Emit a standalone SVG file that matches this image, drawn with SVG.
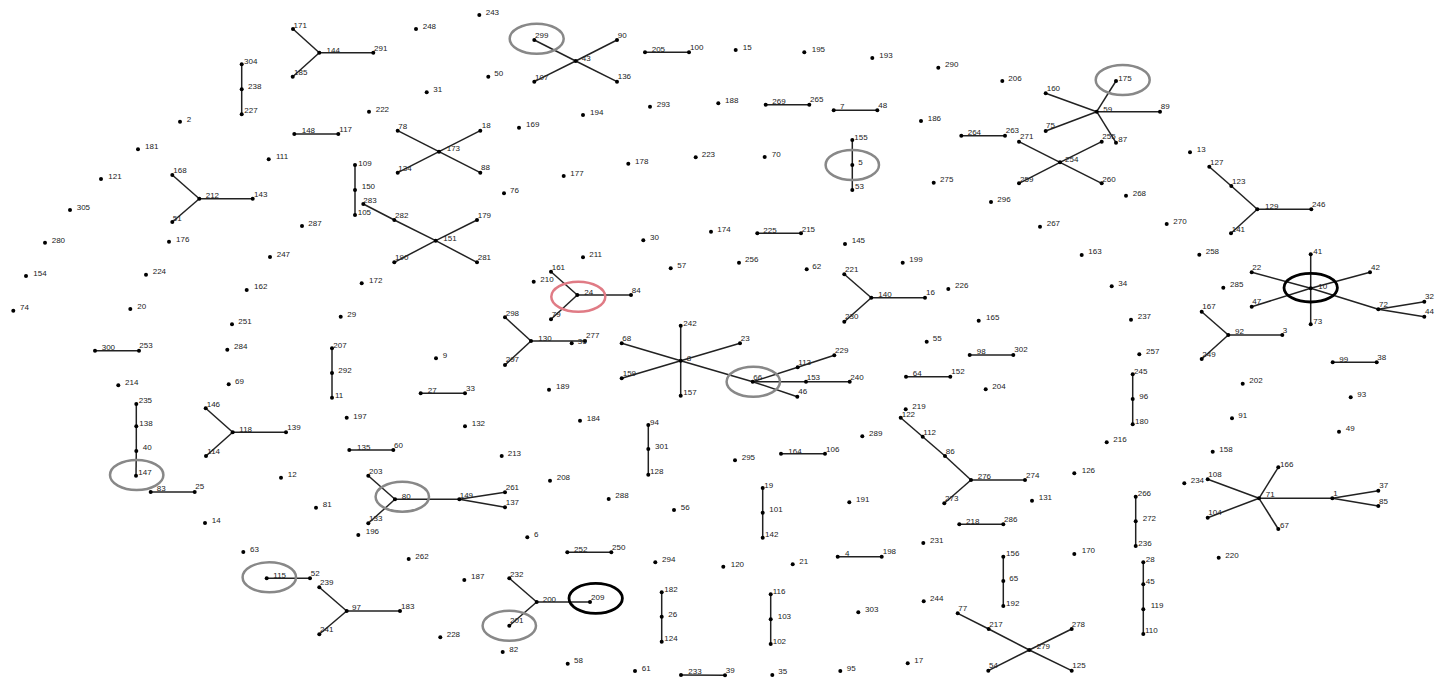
<svg xmlns="http://www.w3.org/2000/svg" width="1435" height="679" viewBox="0 0 1435 679">
<style>
.n circle{fill:#000}
text{font-family:"Liberation Sans",Arial,sans-serif;font-size:8px;fill:#222}
#edges line{stroke:#222;stroke-width:1.5}
.hg{fill:none;stroke:#888;stroke-width:2.5}
.hr{fill:none;stroke:#e07b85;stroke-width:2.5}
.hb{fill:none;stroke:#000;stroke-width:2.8}
</style>
<rect width="1435" height="679" fill="#fff"/>
<g id="edges">
<line x1="293" y1="29" x2="319.3" y2="52.7"/><line x1="292.7" y1="76.7" x2="319.3" y2="52.7"/><line x1="319.3" y1="52.7" x2="373.3" y2="52.7"/>
<line x1="241.7" y1="64.3" x2="241.7" y2="89.3"/><line x1="241.7" y1="89.3" x2="241.7" y2="114.3"/>
<line x1="294.3" y1="134" x2="338.3" y2="134"/>
<line x1="172.3" y1="175" x2="199.3" y2="198.7"/><line x1="172.3" y1="222" x2="199.3" y2="198.7"/><line x1="199.3" y1="198.7" x2="252.7" y2="198.7"/>
<line x1="355" y1="165" x2="355" y2="190"/><line x1="355" y1="190" x2="355" y2="215"/>
<line x1="363.3" y1="204" x2="394.3" y2="220"/><line x1="394.3" y1="220" x2="435.7" y2="240.7"/><line x1="435.7" y1="240.7" x2="477" y2="262.3"/><line x1="477" y1="220" x2="435.7" y2="240.7"/><line x1="435.7" y1="240.7" x2="394.3" y2="262.3"/>
<line x1="534.3" y1="40" x2="575.7" y2="61"/><line x1="617" y1="40" x2="575.7" y2="61"/><line x1="534.3" y1="81.7" x2="575.7" y2="61"/><line x1="617" y1="81.7" x2="575.7" y2="61"/>
<line x1="645" y1="52.3" x2="689" y2="52.3"/>
<line x1="397.7" y1="130.7" x2="439" y2="151.7"/><line x1="480.3" y1="130.7" x2="439" y2="151.7"/><line x1="397.7" y1="172.7" x2="439" y2="151.7"/><line x1="480.3" y1="172.7" x2="439" y2="151.7"/>
<line x1="765.7" y1="104.7" x2="809.3" y2="104.7"/><line x1="833.7" y1="110.3" x2="877.3" y2="110.3"/>
<line x1="852.3" y1="140" x2="852.3" y2="165"/><line x1="852.3" y1="165" x2="852.3" y2="190"/>
<line x1="961.3" y1="135.7" x2="1005" y2="135.7"/>
<line x1="1019" y1="141.7" x2="1060" y2="162.3"/><line x1="1060" y1="162.3" x2="1101.7" y2="183.3"/><line x1="1019" y1="183.3" x2="1060" y2="162.3"/><line x1="1060" y1="162.3" x2="1101.7" y2="141.7"/>
<line x1="1045.7" y1="93.3" x2="1096.7" y2="111.7"/><line x1="1045.7" y1="131" x2="1096.7" y2="111.7"/><line x1="1116" y1="81" x2="1096.7" y2="111.7"/><line x1="1096.7" y1="111.7" x2="1160" y2="111.7"/><line x1="1096.7" y1="111.7" x2="1116" y2="142.7"/>
<line x1="1209.3" y1="166.7" x2="1231.3" y2="186"/><line x1="1231.3" y1="186" x2="1257.3" y2="209.3"/><line x1="1257.3" y1="209.3" x2="1311.3" y2="209.3"/><line x1="1257.3" y1="209.3" x2="1231" y2="233.3"/>
<line x1="757.3" y1="233.3" x2="801" y2="233.3"/>
<line x1="95" y1="350.7" x2="139" y2="350.7"/>
<line x1="332" y1="348.3" x2="332" y2="373"/><line x1="332" y1="373" x2="332" y2="397.7"/>
<line x1="136.3" y1="404" x2="136.3" y2="426.3"/><line x1="136.3" y1="426.3" x2="136.3" y2="451"/><line x1="136.3" y1="451" x2="136" y2="475.7"/>
<line x1="205.7" y1="408.3" x2="232.7" y2="432.3"/><line x1="232.7" y1="432.3" x2="286" y2="432.3"/><line x1="206" y1="456" x2="232.7" y2="432.3"/>
<line x1="551" y1="271.7" x2="577.3" y2="295"/><line x1="551" y1="319.3" x2="577.3" y2="295"/><line x1="577.3" y1="295" x2="631" y2="295"/>
<line x1="505" y1="317.3" x2="531" y2="341"/><line x1="531" y1="341" x2="585" y2="341"/><line x1="531" y1="341" x2="505" y2="365"/>
<line x1="621.7" y1="343.3" x2="680.7" y2="360.7"/><line x1="680.7" y1="325.7" x2="680.7" y2="360.7"/><line x1="680.7" y1="360.7" x2="740" y2="343.3"/><line x1="621.7" y1="378.3" x2="680.7" y2="360.7"/><line x1="680.7" y1="360.7" x2="680.7" y2="395.7"/><line x1="680.7" y1="360.7" x2="752.7" y2="381.7"/>
<line x1="752.7" y1="381.7" x2="797.7" y2="367.3"/><line x1="797.7" y1="367.3" x2="834.3" y2="355.3"/><line x1="752.7" y1="381.7" x2="806" y2="381.7"/><line x1="806" y1="381.7" x2="849.7" y2="381.7"/><line x1="752.7" y1="381.7" x2="797.3" y2="396.7"/>
<line x1="420.7" y1="393.3" x2="465" y2="393.3"/>
<line x1="648.3" y1="425" x2="648.3" y2="449"/><line x1="648.3" y1="449" x2="648.3" y2="474.7"/>
<line x1="349.3" y1="450" x2="393.3" y2="450"/>
<line x1="844.3" y1="274.3" x2="871.3" y2="297.7"/><line x1="844.3" y1="321.7" x2="871.3" y2="297.7"/><line x1="871.3" y1="297.7" x2="925" y2="297.7"/>
<line x1="969.7" y1="355" x2="1013.3" y2="355"/><line x1="906" y1="376.7" x2="950.3" y2="376.7"/>
<line x1="900.7" y1="417.7" x2="922.7" y2="436.7"/><line x1="922.7" y1="436.7" x2="945" y2="456"/><line x1="945" y1="456" x2="971" y2="480"/><line x1="971" y1="480" x2="1025" y2="480"/><line x1="971" y1="480" x2="944.3" y2="503.3"/>
<line x1="781" y1="453.7" x2="825" y2="453.7"/>
<line x1="1310.7" y1="254.3" x2="1310.7" y2="288.3"/><line x1="1310.7" y1="288.3" x2="1310.7" y2="324.3"/><line x1="1251.7" y1="272.3" x2="1310.7" y2="288.3"/><line x1="1310.7" y1="288.3" x2="1378.3" y2="309.3"/><line x1="1251.7" y1="306.7" x2="1310.7" y2="288.3"/><line x1="1310.7" y1="288.3" x2="1370" y2="272.3"/><line x1="1378.3" y1="309.3" x2="1424.3" y2="301.7"/><line x1="1378.3" y1="309.3" x2="1424.3" y2="316.7"/>
<line x1="1201.7" y1="311.7" x2="1228.3" y2="335"/><line x1="1201.7" y1="359" x2="1228.3" y2="335"/><line x1="1228.3" y1="335" x2="1282.3" y2="335"/>
<line x1="1332.7" y1="362.3" x2="1376.7" y2="362.3"/>
<line x1="1132.7" y1="374.3" x2="1132.7" y2="399"/><line x1="1132.7" y1="399" x2="1132.7" y2="424.3"/>
<line x1="150.7" y1="492" x2="194.7" y2="492"/>
<line x1="266.7" y1="578.3" x2="310" y2="578.3"/>
<line x1="319.3" y1="587.3" x2="346.7" y2="611"/><line x1="319.3" y1="634.3" x2="346.7" y2="611"/><line x1="346.7" y1="611" x2="400" y2="611"/>
<line x1="368.3" y1="475.7" x2="395" y2="499.3"/><line x1="368.3" y1="523.3" x2="395" y2="499.3"/><line x1="395" y1="499.3" x2="459.3" y2="499.3"/><line x1="459.3" y1="499.3" x2="505" y2="492.3"/><line x1="459.3" y1="499.3" x2="505" y2="507.3"/>
<line x1="567.3" y1="552.3" x2="611.3" y2="552.3"/>
<line x1="509.3" y1="578.3" x2="536.7" y2="602"/><line x1="509.3" y1="625.7" x2="536.7" y2="602"/><line x1="536.7" y1="602" x2="590" y2="602"/>
<line x1="661.7" y1="592.3" x2="661.7" y2="616.7"/><line x1="661.7" y1="616.7" x2="661.7" y2="641.7"/>
<line x1="681" y1="675" x2="725" y2="675.3"/>
<line x1="762.7" y1="488" x2="762.7" y2="512.7"/><line x1="762.7" y1="512.7" x2="762.7" y2="537.7"/>
<line x1="959.3" y1="524.3" x2="1003.3" y2="524.3"/>
<line x1="837.7" y1="556.7" x2="881.7" y2="556.7"/>
<line x1="1003.3" y1="556.7" x2="1003.3" y2="581"/><line x1="1003.3" y1="581" x2="1003.3" y2="606"/>
<line x1="770.7" y1="594.3" x2="770.7" y2="619.3"/><line x1="770.7" y1="619.3" x2="770.7" y2="644"/>
<line x1="957.7" y1="613.3" x2="988.7" y2="629"/><line x1="988.7" y1="629" x2="1029.3" y2="650"/><line x1="1029.3" y1="650" x2="1071.7" y2="670.7"/><line x1="1071.7" y1="629" x2="1029.3" y2="650"/><line x1="1029.3" y1="650" x2="988.3" y2="670.7"/>
<line x1="1135.7" y1="496.7" x2="1135.7" y2="521.3"/><line x1="1135.7" y1="521.3" x2="1135.7" y2="546"/>
<line x1="1143.3" y1="562.3" x2="1143.3" y2="584.3"/><line x1="1143.3" y1="584.3" x2="1143.3" y2="609.3"/><line x1="1143.3" y1="609.3" x2="1143.3" y2="634"/>
<line x1="1207.7" y1="479.3" x2="1259" y2="498.3"/><line x1="1278.3" y1="467.3" x2="1259" y2="498.3"/><line x1="1207.7" y1="517.7" x2="1259" y2="498.3"/><line x1="1259" y1="498.3" x2="1278.3" y2="529"/><line x1="1259" y1="498.3" x2="1332.3" y2="498.3"/><line x1="1332.3" y1="498.3" x2="1378.3" y2="490.7"/><line x1="1332.3" y1="498.3" x2="1378.3" y2="506"/>
</g>
<g id="nodes">
<g id="n171" class="n"><circle cx="293" cy="29" r="2"/><text x="293.5" y="27.5">171</text></g>
<g id="n144" class="n"><circle cx="319.3" cy="52.7" r="2"/><text x="326.5" y="53">144</text></g>
<g id="n185" class="n"><circle cx="292.7" cy="76.7" r="2"/><text x="294" y="74.5">185</text></g>
<g id="n291" class="n"><circle cx="373.3" cy="52.7" r="2"/><text x="374" y="51">291</text></g>
<g id="n304" class="n"><circle cx="241.7" cy="64.3" r="2"/><text x="244" y="64">304</text></g>
<g id="n238" class="n"><circle cx="241.7" cy="89.3" r="2"/><text x="248" y="88.5">238</text></g>
<g id="n227" class="n"><circle cx="241.7" cy="114.3" r="2"/><text x="244.3" y="113">227</text></g>
<g id="n2" class="n"><circle cx="180" cy="121.7" r="2"/><text x="186.7" y="121.5">2</text></g>
<g id="n181" class="n"><circle cx="138" cy="149.3" r="2"/><text x="145" y="149">181</text></g>
<g id="n121" class="n"><circle cx="101" cy="179" r="2"/><text x="108.3" y="178.5">121</text></g>
<g id="n305" class="n"><circle cx="70" cy="210" r="2"/><text x="76.7" y="210">305</text></g>
<g id="n148" class="n"><circle cx="294.3" cy="134" r="2"/><text x="301.7" y="133">148</text></g>
<g id="n117" class="n"><circle cx="338.3" cy="134" r="2"/><text x="339.3" y="131.5">117</text></g>
<g id="n111" class="n"><circle cx="268.7" cy="159.3" r="2"/><text x="276" y="159">111</text></g>
<g id="n168" class="n"><circle cx="172.3" cy="175" r="2"/><text x="173.3" y="173">168</text></g>
<g id="n212" class="n"><circle cx="199.3" cy="198.7" r="2"/><text x="205.7" y="197.5">212</text></g>
<g id="n143" class="n"><circle cx="252.7" cy="198.7" r="2"/><text x="254" y="196.5">143</text></g>
<g id="n51" class="n"><circle cx="172.3" cy="222" r="2"/><text x="172.7" y="221">51</text></g>
<g id="n287" class="n"><circle cx="302" cy="226" r="2"/><text x="308.3" y="226">287</text></g>
<g id="n109" class="n"><circle cx="355" cy="165" r="2"/><text x="358.3" y="165.5">109</text></g>
<g id="n150" class="n"><circle cx="355" cy="190" r="2"/><text x="361.7" y="189">150</text></g>
<g id="n105" class="n"><circle cx="355" cy="215" r="2"/><text x="357.7" y="215">105</text></g>
<g id="n283" class="n"><circle cx="363.3" cy="204" r="2"/><text x="363.3" y="202.5">283</text></g>
<g id="n243" class="n"><circle cx="479.3" cy="15" r="2"/><text x="485.7" y="15">243</text></g>
<g id="n248" class="n"><circle cx="416" cy="29" r="2"/><text x="422.7" y="28.5">248</text></g>
<g id="n299" class="n"><ellipse class="hg" cx="536.7" cy="38.7" rx="27" ry="15"/><circle cx="534.3" cy="40" r="2"/><text x="535" y="37.5">299</text></g>
<g id="n90" class="n"><circle cx="617" cy="40" r="2"/><text x="617.7" y="37.5">90</text></g>
<g id="n43" class="n"><circle cx="575.7" cy="61" r="2"/><text x="581.7" y="60.5">43</text></g>
<g id="n107" class="n"><circle cx="534.3" cy="81.7" r="2"/><text x="535" y="80">107</text></g>
<g id="n136" class="n"><circle cx="617" cy="81.7" r="2"/><text x="617.7" y="79">136</text></g>
<g id="n205" class="n"><circle cx="645" cy="52.3" r="2"/><text x="651.7" y="51.5">205</text></g>
<g id="n100" class="n"><circle cx="689" cy="52.3" r="2"/><text x="690" y="50">100</text></g>
<g id="n50" class="n"><circle cx="488.3" cy="76.7" r="2"/><text x="494.3" y="76">50</text></g>
<g id="n31" class="n"><circle cx="426.7" cy="92.3" r="2"/><text x="433.3" y="92">31</text></g>
<g id="n222" class="n"><circle cx="369" cy="111.7" r="2"/><text x="375.7" y="111.5">222</text></g>
<g id="n194" class="n"><circle cx="583" cy="115" r="2"/><text x="590" y="115">194</text></g>
<g id="n293" class="n"><circle cx="650" cy="106.7" r="2"/><text x="656.7" y="106.5">293</text></g>
<g id="n169" class="n"><circle cx="519" cy="127.7" r="2"/><text x="526" y="127">169</text></g>
<g id="n78" class="n"><circle cx="397.7" cy="130.7" r="2"/><text x="398.3" y="129">78</text></g>
<g id="n18" class="n"><circle cx="480.3" cy="130.7" r="2"/><text x="481.7" y="128">18</text></g>
<g id="n173" class="n"><circle cx="439" cy="151.7" r="2"/><text x="446.7" y="151">173</text></g>
<g id="n134" class="n"><circle cx="397.7" cy="172.7" r="2"/><text x="398.3" y="171">134</text></g>
<g id="n88" class="n"><circle cx="480.3" cy="172.7" r="2"/><text x="481" y="170">88</text></g>
<g id="n223" class="n"><circle cx="695.7" cy="157.3" r="2"/><text x="701.7" y="157">223</text></g>
<g id="n178" class="n"><circle cx="628.3" cy="163.7" r="2"/><text x="635" y="163.5">178</text></g>
<g id="n177" class="n"><circle cx="563.7" cy="176" r="2"/><text x="570.3" y="175.5">177</text></g>
<g id="n76" class="n"><circle cx="504" cy="193.3" r="2"/><text x="510" y="193">76</text></g>
<g id="n179" class="n"><circle cx="477" cy="220" r="2"/><text x="477.7" y="218">179</text></g>
<g id="n282" class="n"><circle cx="394.3" cy="220" r="2"/><text x="395" y="217.5">282</text></g>
<g id="n15" class="n"><circle cx="735.7" cy="50" r="2"/><text x="742.7" y="50">15</text></g>
<g id="n195" class="n"><circle cx="804.3" cy="52.3" r="2"/><text x="811.7" y="51.5">195</text></g>
<g id="n193" class="n"><circle cx="872.3" cy="58" r="2"/><text x="879.3" y="57.5">193</text></g>
<g id="n290" class="n"><circle cx="938.3" cy="67.7" r="2"/><text x="945" y="67">290</text></g>
<g id="n206" class="n"><circle cx="1002.3" cy="81" r="2"/><text x="1008.3" y="81">206</text></g>
<g id="n188" class="n"><circle cx="718.3" cy="103.3" r="2"/><text x="725" y="103">188</text></g>
<g id="n269" class="n"><circle cx="765.7" cy="104.7" r="2"/><text x="772.3" y="104">269</text></g>
<g id="n265" class="n"><circle cx="809.3" cy="104.7" r="2"/><text x="810" y="102">265</text></g>
<g id="n7" class="n"><circle cx="833.7" cy="110.3" r="2"/><text x="840" y="109">7</text></g>
<g id="n48" class="n"><circle cx="877.3" cy="110.3" r="2"/><text x="878.3" y="108">48</text></g>
<g id="n186" class="n"><circle cx="921" cy="121" r="2"/><text x="927.7" y="121">186</text></g>
<g id="n264" class="n"><circle cx="961.3" cy="135.7" r="2"/><text x="967.7" y="135">264</text></g>
<g id="n263" class="n"><circle cx="1005" cy="135.7" r="2"/><text x="1005.7" y="133">263</text></g>
<g id="n271" class="n"><circle cx="1019" cy="141.7" r="2"/><text x="1020" y="139">271</text></g>
<g id="n155" class="n"><circle cx="852.3" cy="140" r="2"/><text x="854.3" y="140">155</text></g>
<g id="n5" class="n"><ellipse class="hg" cx="852.3" cy="165" rx="26.7" ry="15"/><circle cx="852.3" cy="165" r="2"/><text x="858.3" y="164.5">5</text></g>
<g id="n53" class="n"><circle cx="852.3" cy="190" r="2"/><text x="855" y="189">53</text></g>
<g id="n70" class="n"><circle cx="764.7" cy="157" r="2"/><text x="771.7" y="156.5">70</text></g>
<g id="n275" class="n"><circle cx="933.7" cy="182.7" r="2"/><text x="940" y="182">275</text></g>
<g id="n296" class="n"><circle cx="991" cy="202" r="2"/><text x="997.3" y="201.5">296</text></g>
<g id="n259" class="n"><circle cx="1019" cy="183.3" r="2"/><text x="1020" y="181.5">259</text></g>
<g id="n254" class="n"><circle cx="1060" cy="162.3" r="2"/><text x="1065" y="161.5">254</text></g>
<g id="n160" class="n"><circle cx="1045.7" cy="93.3" r="2"/><text x="1046.7" y="90.5">160</text></g>
<g id="n75" class="n"><circle cx="1045.7" cy="131" r="2"/><text x="1046" y="128">75</text></g>
<g id="n267" class="n"><circle cx="1040" cy="226.7" r="2"/><text x="1046.7" y="225.5">267</text></g>
<g id="n174" class="n"><circle cx="711" cy="231.7" r="2"/><text x="717.3" y="231.5">174</text></g>
<g id="n225" class="n"><circle cx="757.3" cy="233.3" r="2"/><text x="763.3" y="233">225</text></g>
<g id="n215" class="n"><circle cx="801" cy="233.3" r="2"/><text x="801.7" y="231.5">215</text></g>
<g id="n175" class="n"><ellipse class="hg" cx="1122.7" cy="80" rx="27" ry="15"/><circle cx="1116" cy="81" r="2"/><text x="1118.3" y="81">175</text></g>
<g id="n59" class="n"><circle cx="1096.7" cy="111.7" r="2"/><text x="1103.3" y="111.5">59</text></g>
<g id="n89" class="n"><circle cx="1160" cy="111.7" r="2"/><text x="1160.7" y="109">89</text></g>
<g id="n255" class="n"><circle cx="1101.7" cy="141.7" r="2"/><text x="1102.3" y="139">255</text></g>
<g id="n87" class="n"><circle cx="1116" cy="142.7" r="2"/><text x="1118.3" y="141.5">87</text></g>
<g id="n260" class="n"><circle cx="1101.7" cy="183.3" r="2"/><text x="1102.3" y="181.5">260</text></g>
<g id="n268" class="n"><circle cx="1126" cy="195.7" r="2"/><text x="1132.7" y="195.5">268</text></g>
<g id="n13" class="n"><circle cx="1190" cy="152.3" r="2"/><text x="1196.7" y="151.5">13</text></g>
<g id="n127" class="n"><circle cx="1209.3" cy="166.7" r="2"/><text x="1210" y="165">127</text></g>
<g id="n123" class="n"><circle cx="1231.3" cy="186" r="2"/><text x="1232" y="184">123</text></g>
<g id="n129" class="n"><circle cx="1257.3" cy="209.3" r="2"/><text x="1265" y="209">129</text></g>
<g id="n246" class="n"><circle cx="1311.3" cy="209.3" r="2"/><text x="1312" y="207">246</text></g>
<g id="n141" class="n"><circle cx="1231" cy="233.3" r="2"/><text x="1231.7" y="231.5">141</text></g>
<g id="n270" class="n"><circle cx="1166.7" cy="224" r="2"/><text x="1173.3" y="224">270</text></g>
<g id="n280" class="n"><circle cx="45" cy="242.7" r="2"/><text x="51.7" y="242.5">280</text></g>
<g id="n176" class="n"><circle cx="169" cy="241.7" r="2"/><text x="176" y="241.5">176</text></g>
<g id="n247" class="n"><circle cx="270" cy="257" r="2"/><text x="276.7" y="256.5">247</text></g>
<g id="n154" class="n"><circle cx="26" cy="276" r="2"/><text x="33.3" y="276">154</text></g>
<g id="n224" class="n"><circle cx="146" cy="274.7" r="2"/><text x="152.7" y="274">224</text></g>
<g id="n162" class="n"><circle cx="246.7" cy="290" r="2"/><text x="254" y="289">162</text></g>
<g id="n74" class="n"><circle cx="13.3" cy="310.7" r="2"/><text x="20" y="310">74</text></g>
<g id="n20" class="n"><circle cx="130.3" cy="309" r="2"/><text x="137.3" y="308.5">20</text></g>
<g id="n29" class="n"><circle cx="340.7" cy="316.7" r="2"/><text x="347.3" y="316.5">29</text></g>
<g id="n251" class="n"><circle cx="232" cy="324.3" r="2"/><text x="238.3" y="324">251</text></g>
<g id="n300" class="n"><circle cx="95" cy="350.7" r="2"/><text x="101.7" y="350">300</text></g>
<g id="n253" class="n"><circle cx="139" cy="350.7" r="2"/><text x="139.3" y="348">253</text></g>
<g id="n284" class="n"><circle cx="227.3" cy="349.7" r="2"/><text x="234" y="349">284</text></g>
<g id="n207" class="n"><circle cx="332" cy="348.3" r="2"/><text x="333.3" y="347.5">207</text></g>
<g id="n292" class="n"><circle cx="332" cy="373" r="2"/><text x="338.3" y="372.5">292</text></g>
<g id="n11" class="n"><circle cx="332" cy="397.7" r="2"/><text x="335" y="397.5">11</text></g>
<g id="n214" class="n"><circle cx="118.3" cy="385.3" r="2"/><text x="125" y="385">214</text></g>
<g id="n69" class="n"><circle cx="228.7" cy="384.3" r="2"/><text x="235" y="384">69</text></g>
<g id="n235" class="n"><circle cx="136.3" cy="404" r="2"/><text x="138.7" y="403">235</text></g>
<g id="n138" class="n"><circle cx="136.3" cy="426.3" r="2"/><text x="139.3" y="426">138</text></g>
<g id="n40" class="n"><circle cx="136.3" cy="451" r="2"/><text x="142.7" y="450">40</text></g>
<g id="n146" class="n"><circle cx="205.7" cy="408.3" r="2"/><text x="206.7" y="406.5">146</text></g>
<g id="n118" class="n"><circle cx="232.7" cy="432.3" r="2"/><text x="239.3" y="431.5">118</text></g>
<g id="n139" class="n"><circle cx="286" cy="432.3" r="2"/><text x="287.3" y="430">139</text></g>
<g id="n197" class="n"><circle cx="346.7" cy="417.7" r="2"/><text x="353.3" y="419">197</text></g>
<g id="n114" class="n"><circle cx="206" cy="456" r="2"/><text x="207.3" y="454">114</text></g>
<g id="n151" class="n"><circle cx="435.7" cy="240.7" r="2"/><text x="443.3" y="240.5">151</text></g>
<g id="n190" class="n"><circle cx="394.3" cy="262.3" r="2"/><text x="395" y="260">190</text></g>
<g id="n281" class="n"><circle cx="477" cy="262.3" r="2"/><text x="477.7" y="260">281</text></g>
<g id="n172" class="n"><circle cx="361.7" cy="283.3" r="2"/><text x="369" y="283">172</text></g>
<g id="n211" class="n"><circle cx="583" cy="257.3" r="2"/><text x="589.3" y="257">211</text></g>
<g id="n30" class="n"><circle cx="643.3" cy="240.3" r="2"/><text x="650" y="240">30</text></g>
<g id="n57" class="n"><circle cx="670.7" cy="268.3" r="2"/><text x="677.3" y="267.5">57</text></g>
<g id="n161" class="n"><circle cx="551" cy="271.7" r="2"/><text x="551.7" y="270">161</text></g>
<g id="n210" class="n"><circle cx="533.7" cy="281.7" r="2"/><text x="540.3" y="281.5">210</text></g>
<g id="n24" class="n"><ellipse class="hr" cx="578.3" cy="296.7" rx="27" ry="15"/><circle cx="577.3" cy="295" r="2"/><text x="584.3" y="295">24</text></g>
<g id="n84" class="n"><circle cx="631" cy="295" r="2"/><text x="631.7" y="293">84</text></g>
<g id="n79" class="n"><circle cx="551" cy="319.3" r="2"/><text x="551.7" y="316.5">79</text></g>
<g id="n298" class="n"><circle cx="505" cy="317.3" r="2"/><text x="505.7" y="315.5">298</text></g>
<g id="n130" class="n"><circle cx="531" cy="341" r="2"/><text x="538.3" y="340.5">130</text></g>
<g id="n277" class="n"><circle cx="585" cy="341" r="2"/><text x="586" y="338">277</text></g>
<g id="n36" class="n"><circle cx="571.7" cy="343.3" r="2"/><text x="577.7" y="344">36</text></g>
<g id="n297" class="n"><circle cx="505" cy="365" r="2"/><text x="505.7" y="362">297</text></g>
<g id="n9" class="n"><circle cx="436" cy="358.3" r="2"/><text x="442.7" y="358">9</text></g>
<g id="n68" class="n"><circle cx="621.7" cy="343.3" r="2"/><text x="622.3" y="341">68</text></g>
<g id="n8" class="n"><circle cx="680.7" cy="360.7" r="2"/><text x="686.7" y="360.5">8</text></g>
<g id="n242" class="n"><circle cx="680.7" cy="325.7" r="2"/><text x="683.3" y="326">242</text></g>
<g id="n159" class="n"><circle cx="621.7" cy="378.3" r="2"/><text x="622.7" y="375.5">159</text></g>
<g id="n157" class="n"><circle cx="680.7" cy="395.7" r="2"/><text x="683.3" y="395">157</text></g>
<g id="n23" class="n"><circle cx="740" cy="343.3" r="2"/><text x="740.7" y="341">23</text></g>
<g id="n66" class="n"><ellipse class="hg" cx="753.3" cy="381.7" rx="26.7" ry="15"/><circle cx="752.7" cy="381.7" r="2"/><text x="753.3" y="380">66</text></g>
<g id="n113" class="n"><circle cx="797.7" cy="367.3" r="2"/><text x="798.3" y="365">113</text></g>
<g id="n229" class="n"><circle cx="834.3" cy="355.3" r="2"/><text x="835" y="352.5">229</text></g>
<g id="n153" class="n"><circle cx="806" cy="381.7" r="2"/><text x="806.7" y="380">153</text></g>
<g id="n240" class="n"><circle cx="849.7" cy="381.7" r="2"/><text x="850.3" y="380">240</text></g>
<g id="n46" class="n"><circle cx="797.3" cy="396.7" r="2"/><text x="798.3" y="394">46</text></g>
<g id="n189" class="n"><circle cx="549" cy="389.7" r="2"/><text x="556" y="389">189</text></g>
<g id="n27" class="n"><circle cx="420.7" cy="393.3" r="2"/><text x="427.7" y="392.5">27</text></g>
<g id="n33" class="n"><circle cx="465" cy="393.3" r="2"/><text x="466" y="391">33</text></g>
<g id="n132" class="n"><circle cx="465" cy="426.3" r="2"/><text x="471.7" y="426">132</text></g>
<g id="n184" class="n"><circle cx="580" cy="420.7" r="2"/><text x="586.7" y="420.5">184</text></g>
<g id="n94" class="n"><circle cx="648.3" cy="425" r="2"/><text x="650" y="425">94</text></g>
<g id="n301" class="n"><circle cx="648.3" cy="449" r="2"/><text x="655" y="449">301</text></g>
<g id="n128" class="n"><circle cx="648.3" cy="474.7" r="2"/><text x="650" y="474">128</text></g>
<g id="n135" class="n"><circle cx="349.3" cy="450" r="2"/><text x="357" y="449.5">135</text></g>
<g id="n60" class="n"><circle cx="393.3" cy="450" r="2"/><text x="394" y="448">60</text></g>
<g id="n256" class="n"><circle cx="739" cy="262.7" r="2"/><text x="745" y="262">256</text></g>
<g id="n62" class="n"><circle cx="806.7" cy="269.3" r="2"/><text x="812.3" y="269">62</text></g>
<g id="n145" class="n"><circle cx="845" cy="244" r="2"/><text x="851.7" y="243">145</text></g>
<g id="n199" class="n"><circle cx="902.7" cy="262.7" r="2"/><text x="909.3" y="262">199</text></g>
<g id="n221" class="n"><circle cx="844.3" cy="274.3" r="2"/><text x="845" y="271.5">221</text></g>
<g id="n140" class="n"><circle cx="871.3" cy="297.7" r="2"/><text x="878.3" y="297">140</text></g>
<g id="n16" class="n"><circle cx="925" cy="297.7" r="2"/><text x="926" y="295">16</text></g>
<g id="n230" class="n"><circle cx="844.3" cy="321.7" r="2"/><text x="845" y="319">230</text></g>
<g id="n226" class="n"><circle cx="948.3" cy="289" r="2"/><text x="955" y="288">226</text></g>
<g id="n165" class="n"><circle cx="978.7" cy="320.7" r="2"/><text x="986" y="320">165</text></g>
<g id="n55" class="n"><circle cx="926.7" cy="341.7" r="2"/><text x="932.7" y="341">55</text></g>
<g id="n98" class="n"><circle cx="969.7" cy="355" r="2"/><text x="976.7" y="354">98</text></g>
<g id="n302" class="n"><circle cx="1013.3" cy="355" r="2"/><text x="1014.3" y="352">302</text></g>
<g id="n64" class="n"><circle cx="906" cy="376.7" r="2"/><text x="912.7" y="376">64</text></g>
<g id="n152" class="n"><circle cx="950.3" cy="376.7" r="2"/><text x="951.3" y="374">152</text></g>
<g id="n204" class="n"><circle cx="985.7" cy="389.3" r="2"/><text x="992.3" y="389">204</text></g>
<g id="n219" class="n"><circle cx="905.7" cy="409.3" r="2"/><text x="912.3" y="409">219</text></g>
<g id="n122" class="n"><circle cx="900.7" cy="417.7" r="2"/><text x="901.7" y="416.5">122</text></g>
<g id="n112" class="n"><circle cx="922.7" cy="436.7" r="2"/><text x="923.3" y="435">112</text></g>
<g id="n289" class="n"><circle cx="862.3" cy="436.3" r="2"/><text x="869" y="436">289</text></g>
<g id="n86" class="n"><circle cx="945" cy="456" r="2"/><text x="945.7" y="454">86</text></g>
<g id="n276" class="n"><circle cx="971" cy="480" r="2"/><text x="977.7" y="479">276</text></g>
<g id="n274" class="n"><circle cx="1025" cy="480" r="2"/><text x="1026" y="477.5">274</text></g>
<g id="n273" class="n"><circle cx="944.3" cy="503.3" r="2"/><text x="945" y="501">273</text></g>
<g id="n164" class="n"><circle cx="781" cy="453.7" r="2"/><text x="788.3" y="454">164</text></g>
<g id="n106" class="n"><circle cx="825" cy="453.7" r="2"/><text x="826" y="452">106</text></g>
<g id="n295" class="n"><circle cx="735" cy="460.3" r="2"/><text x="741.7" y="460">295</text></g>
<g id="n163" class="n"><circle cx="1081.7" cy="255" r="2"/><text x="1088.3" y="254">163</text></g>
<g id="n258" class="n"><circle cx="1199.3" cy="254.7" r="2"/><text x="1205.7" y="254">258</text></g>
<g id="n34" class="n"><circle cx="1111.7" cy="286.3" r="2"/><text x="1118.3" y="286">34</text></g>
<g id="n285" class="n"><circle cx="1223.3" cy="287.7" r="2"/><text x="1230" y="287">285</text></g>
<g id="n41" class="n"><circle cx="1310.7" cy="254.3" r="2"/><text x="1313.3" y="254">41</text></g>
<g id="n22" class="n"><circle cx="1251.7" cy="272.3" r="2"/><text x="1252.3" y="270">22</text></g>
<g id="n42" class="n"><circle cx="1370" cy="272.3" r="2"/><text x="1371" y="270">42</text></g>
<g id="n10" class="n"><ellipse class="hb" cx="1310.7" cy="287.7" rx="26.7" ry="14.3"/><circle cx="1310.7" cy="288.3" r="2"/><text x="1318.3" y="288.5">10</text></g>
<g id="n47" class="n"><circle cx="1251.7" cy="306.7" r="2"/><text x="1252.3" y="304">47</text></g>
<g id="n73" class="n"><circle cx="1310.7" cy="324.3" r="2"/><text x="1313.3" y="324">73</text></g>
<g id="n72" class="n"><circle cx="1378.3" cy="309.3" r="2"/><text x="1379" y="307">72</text></g>
<g id="n32" class="n"><circle cx="1424.3" cy="301.7" r="2"/><text x="1425" y="299">32</text></g>
<g id="n44" class="n"><circle cx="1424.3" cy="316.7" r="2"/><text x="1425" y="314">44</text></g>
<g id="n237" class="n"><circle cx="1131" cy="319.7" r="2"/><text x="1137.7" y="319">237</text></g>
<g id="n167" class="n"><circle cx="1201.7" cy="311.7" r="2"/><text x="1202.3" y="309">167</text></g>
<g id="n92" class="n"><circle cx="1228.3" cy="335" r="2"/><text x="1235" y="334">92</text></g>
<g id="n3" class="n"><circle cx="1282.3" cy="335" r="2"/><text x="1282.7" y="332.5">3</text></g>
<g id="n249" class="n"><circle cx="1201.7" cy="359" r="2"/><text x="1202.3" y="356.5">249</text></g>
<g id="n257" class="n"><circle cx="1139.3" cy="354.3" r="2"/><text x="1146" y="354">257</text></g>
<g id="n99" class="n"><circle cx="1332.7" cy="362.3" r="2"/><text x="1339.3" y="361.5">99</text></g>
<g id="n38" class="n"><circle cx="1376.7" cy="362.3" r="2"/><text x="1377.3" y="360">38</text></g>
<g id="n245" class="n"><circle cx="1132.7" cy="374.3" r="2"/><text x="1134" y="374">245</text></g>
<g id="n96" class="n"><circle cx="1132.7" cy="399" r="2"/><text x="1139.3" y="399">96</text></g>
<g id="n180" class="n"><circle cx="1132.7" cy="424.3" r="2"/><text x="1135" y="424">180</text></g>
<g id="n202" class="n"><circle cx="1242.7" cy="383.7" r="2"/><text x="1249.3" y="383">202</text></g>
<g id="n93" class="n"><circle cx="1350.7" cy="397.3" r="2"/><text x="1357.3" y="396.5">93</text></g>
<g id="n91" class="n"><circle cx="1232" cy="418.3" r="2"/><text x="1238.3" y="418">91</text></g>
<g id="n49" class="n"><circle cx="1339" cy="431.7" r="2"/><text x="1345.7" y="431">49</text></g>
<g id="n216" class="n"><circle cx="1106.7" cy="442.3" r="2"/><text x="1113.3" y="441.5">216</text></g>
<g id="n158" class="n"><circle cx="1212.7" cy="451.7" r="2"/><text x="1219.3" y="451.5">158</text></g>
<g id="n147" class="n"><ellipse class="hg" cx="136.7" cy="475" rx="26.7" ry="15"/><circle cx="136" cy="475.7" r="2"/><text x="138.3" y="475">147</text></g>
<g id="n83" class="n"><circle cx="150.7" cy="492" r="2"/><text x="156.7" y="491">83</text></g>
<g id="n25" class="n"><circle cx="194.7" cy="492" r="2"/><text x="195.3" y="489">25</text></g>
<g id="n12" class="n"><circle cx="281" cy="477.7" r="2"/><text x="287.7" y="477">12</text></g>
<g id="n81" class="n"><circle cx="316" cy="507.7" r="2"/><text x="322.7" y="507">81</text></g>
<g id="n14" class="n"><circle cx="205" cy="523" r="2"/><text x="211.7" y="522.5">14</text></g>
<g id="n63" class="n"><circle cx="243.3" cy="552" r="2"/><text x="250" y="551.5">63</text></g>
<g id="n115" class="n"><ellipse class="hg" cx="269.3" cy="577.3" rx="26.7" ry="15"/><circle cx="266.7" cy="578.3" r="2"/><text x="273.3" y="577.5">115</text></g>
<g id="n52" class="n"><circle cx="310" cy="578.3" r="2"/><text x="310.7" y="576">52</text></g>
<g id="n239" class="n"><circle cx="319.3" cy="587.3" r="2"/><text x="320" y="585">239</text></g>
<g id="n97" class="n"><circle cx="346.7" cy="611" r="2"/><text x="352" y="610">97</text></g>
<g id="n241" class="n"><circle cx="319.3" cy="634.3" r="2"/><text x="320" y="632">241</text></g>
<g id="n183" class="n"><circle cx="400" cy="611" r="2"/><text x="401" y="609">183</text></g>
<g id="n213" class="n"><circle cx="501.7" cy="456" r="2"/><text x="507.7" y="456">213</text></g>
<g id="n203" class="n"><circle cx="368.3" cy="475.7" r="2"/><text x="369" y="474">203</text></g>
<g id="n80" class="n"><ellipse class="hg" cx="402.3" cy="496.7" rx="26.7" ry="15"/><circle cx="395" cy="499.3" r="2"/><text x="401.7" y="499">80</text></g>
<g id="n149" class="n"><circle cx="459.3" cy="499.3" r="2"/><text x="459.7" y="497.5">149</text></g>
<g id="n261" class="n"><circle cx="505" cy="492.3" r="2"/><text x="505.7" y="490">261</text></g>
<g id="n137" class="n"><circle cx="505" cy="507.3" r="2"/><text x="505.7" y="505">137</text></g>
<g id="n133" class="n"><circle cx="368.3" cy="523.3" r="2"/><text x="369" y="521">133</text></g>
<g id="n196" class="n"><circle cx="358.3" cy="535" r="2"/><text x="365.7" y="534">196</text></g>
<g id="n208" class="n"><circle cx="550" cy="480.7" r="2"/><text x="556.7" y="480">208</text></g>
<g id="n288" class="n"><circle cx="608.7" cy="499" r="2"/><text x="615.3" y="498">288</text></g>
<g id="n56" class="n"><circle cx="674" cy="510" r="2"/><text x="680.7" y="510">56</text></g>
<g id="n6" class="n"><circle cx="527.3" cy="537.3" r="2"/><text x="534" y="536.5">6</text></g>
<g id="n252" class="n"><circle cx="567.3" cy="552.3" r="2"/><text x="574" y="552">252</text></g>
<g id="n250" class="n"><circle cx="611.3" cy="552.3" r="2"/><text x="612" y="550">250</text></g>
<g id="n262" class="n"><circle cx="408.7" cy="559" r="2"/><text x="415.3" y="559">262</text></g>
<g id="n294" class="n"><circle cx="655.3" cy="562.3" r="2"/><text x="662" y="562">294</text></g>
<g id="n187" class="n"><circle cx="464.3" cy="580" r="2"/><text x="471" y="579">187</text></g>
<g id="n232" class="n"><circle cx="509.3" cy="578.3" r="2"/><text x="510" y="576.5">232</text></g>
<g id="n200" class="n"><circle cx="536.7" cy="602" r="2"/><text x="542.7" y="601.5">200</text></g>
<g id="n209" class="n"><ellipse class="hb" cx="595.7" cy="598.3" rx="26.7" ry="15"/><circle cx="590" cy="602" r="2"/><text x="591" y="600">209</text></g>
<g id="n201" class="n"><ellipse class="hg" cx="509.3" cy="625.7" rx="26.7" ry="15"/><circle cx="509.3" cy="625.7" r="2"/><text x="510" y="623">201</text></g>
<g id="n82" class="n"><circle cx="502.7" cy="652" r="2"/><text x="509.3" y="651.5">82</text></g>
<g id="n228" class="n"><circle cx="440.3" cy="637.3" r="2"/><text x="446.7" y="636.5">228</text></g>
<g id="n58" class="n"><circle cx="567.7" cy="663.7" r="2"/><text x="574" y="663">58</text></g>
<g id="n61" class="n"><circle cx="635" cy="671" r="2"/><text x="641.7" y="670.5">61</text></g>
<g id="n233" class="n"><circle cx="681" cy="675" r="2"/><text x="688.3" y="674">233</text></g>
<g id="n39" class="n"><circle cx="725" cy="675.3" r="2"/><text x="725.7" y="672.5">39</text></g>
<g id="n182" class="n"><circle cx="661.7" cy="592.3" r="2"/><text x="664.3" y="591.5">182</text></g>
<g id="n26" class="n"><circle cx="661.7" cy="616.7" r="2"/><text x="668.3" y="616.5">26</text></g>
<g id="n124" class="n"><circle cx="661.7" cy="641.7" r="2"/><text x="664.3" y="641">124</text></g>
<g id="n19" class="n"><circle cx="762.7" cy="488" r="2"/><text x="764.3" y="487.5">19</text></g>
<g id="n101" class="n"><circle cx="762.7" cy="512.7" r="2"/><text x="769.3" y="512">101</text></g>
<g id="n142" class="n"><circle cx="762.7" cy="537.7" r="2"/><text x="765" y="537">142</text></g>
<g id="n191" class="n"><circle cx="849.3" cy="502.3" r="2"/><text x="856" y="502">191</text></g>
<g id="n131" class="n"><circle cx="1032" cy="500.7" r="2"/><text x="1038.7" y="500">131</text></g>
<g id="n218" class="n"><circle cx="959.3" cy="524.3" r="2"/><text x="966" y="524">218</text></g>
<g id="n286" class="n"><circle cx="1003.3" cy="524.3" r="2"/><text x="1004" y="522">286</text></g>
<g id="n231" class="n"><circle cx="923.3" cy="543" r="2"/><text x="930" y="542.5">231</text></g>
<g id="n4" class="n"><circle cx="837.7" cy="556.7" r="2"/><text x="845" y="556">4</text></g>
<g id="n198" class="n"><circle cx="881.7" cy="556.7" r="2"/><text x="882.7" y="554">198</text></g>
<g id="n120" class="n"><circle cx="723.3" cy="566.7" r="2"/><text x="730.7" y="566.5">120</text></g>
<g id="n21" class="n"><circle cx="792.7" cy="564.3" r="2"/><text x="799.3" y="564">21</text></g>
<g id="n156" class="n"><circle cx="1003.3" cy="556.7" r="2"/><text x="1006" y="556">156</text></g>
<g id="n65" class="n"><circle cx="1003.3" cy="581" r="2"/><text x="1009.3" y="580.5">65</text></g>
<g id="n192" class="n"><circle cx="1003.3" cy="606" r="2"/><text x="1006" y="605.5">192</text></g>
<g id="n116" class="n"><circle cx="770.7" cy="594.3" r="2"/><text x="772.7" y="594">116</text></g>
<g id="n103" class="n"><circle cx="770.7" cy="619.3" r="2"/><text x="777.7" y="619">103</text></g>
<g id="n102" class="n"><circle cx="770.7" cy="644" r="2"/><text x="772.7" y="644">102</text></g>
<g id="n244" class="n"><circle cx="923.7" cy="601.3" r="2"/><text x="930" y="601">244</text></g>
<g id="n303" class="n"><circle cx="858.3" cy="612.3" r="2"/><text x="865" y="611.5">303</text></g>
<g id="n77" class="n"><circle cx="957.7" cy="613.3" r="2"/><text x="958.3" y="611">77</text></g>
<g id="n217" class="n"><circle cx="988.7" cy="629" r="2"/><text x="989.3" y="626.5">217</text></g>
<g id="n279" class="n"><circle cx="1029.3" cy="650" r="2"/><text x="1036.7" y="649">279</text></g>
<g id="n278" class="n"><circle cx="1071.7" cy="629" r="2"/><text x="1071.7" y="626.5">278</text></g>
<g id="n54" class="n"><circle cx="988.3" cy="670.7" r="2"/><text x="989" y="668">54</text></g>
<g id="n125" class="n"><circle cx="1071.7" cy="670.7" r="2"/><text x="1072.3" y="668">125</text></g>
<g id="n17" class="n"><circle cx="907.7" cy="663.3" r="2"/><text x="914.3" y="662.5">17</text></g>
<g id="n95" class="n"><circle cx="840.3" cy="671" r="2"/><text x="846.7" y="670.5">95</text></g>
<g id="n35" class="n"><circle cx="772.3" cy="675" r="2"/><text x="778.3" y="674">35</text></g>
<g id="n126" class="n"><circle cx="1074.3" cy="473.3" r="2"/><text x="1081.7" y="472.5">126</text></g>
<g id="n170" class="n"><circle cx="1074.3" cy="554" r="2"/><text x="1081.7" y="553">170</text></g>
<g id="n266" class="n"><circle cx="1135.7" cy="496.7" r="2"/><text x="1137.7" y="496">266</text></g>
<g id="n272" class="n"><circle cx="1135.7" cy="521.3" r="2"/><text x="1142.7" y="521">272</text></g>
<g id="n236" class="n"><circle cx="1135.7" cy="546" r="2"/><text x="1138.3" y="545.5">236</text></g>
<g id="n28" class="n"><circle cx="1143.3" cy="562.3" r="2"/><text x="1145.7" y="561.5">28</text></g>
<g id="n45" class="n"><circle cx="1143.3" cy="584.3" r="2"/><text x="1145.7" y="584">45</text></g>
<g id="n119" class="n"><circle cx="1143.3" cy="609.3" r="2"/><text x="1150.7" y="608">119</text></g>
<g id="n110" class="n"><circle cx="1143.3" cy="634" r="2"/><text x="1145" y="633">110</text></g>
<g id="n234" class="n"><circle cx="1184.3" cy="483.3" r="2"/><text x="1190.7" y="483">234</text></g>
<g id="n108" class="n"><circle cx="1207.7" cy="479.3" r="2"/><text x="1208.3" y="477">108</text></g>
<g id="n166" class="n"><circle cx="1278.3" cy="467.3" r="2"/><text x="1280" y="467">166</text></g>
<g id="n71" class="n"><circle cx="1259" cy="498.3" r="2"/><text x="1265.7" y="497">71</text></g>
<g id="n1" class="n"><circle cx="1332.3" cy="498.3" r="2"/><text x="1333.3" y="495.5">1</text></g>
<g id="n37" class="n"><circle cx="1378.3" cy="490.7" r="2"/><text x="1379.3" y="488">37</text></g>
<g id="n85" class="n"><circle cx="1378.3" cy="506" r="2"/><text x="1379" y="504">85</text></g>
<g id="n104" class="n"><circle cx="1207.7" cy="517.7" r="2"/><text x="1208.3" y="515">104</text></g>
<g id="n67" class="n"><circle cx="1278.3" cy="529" r="2"/><text x="1280" y="528">67</text></g>
<g id="n220" class="n"><circle cx="1218.7" cy="557.7" r="2"/><text x="1225.3" y="557.5">220</text></g>
</g>
</svg>
